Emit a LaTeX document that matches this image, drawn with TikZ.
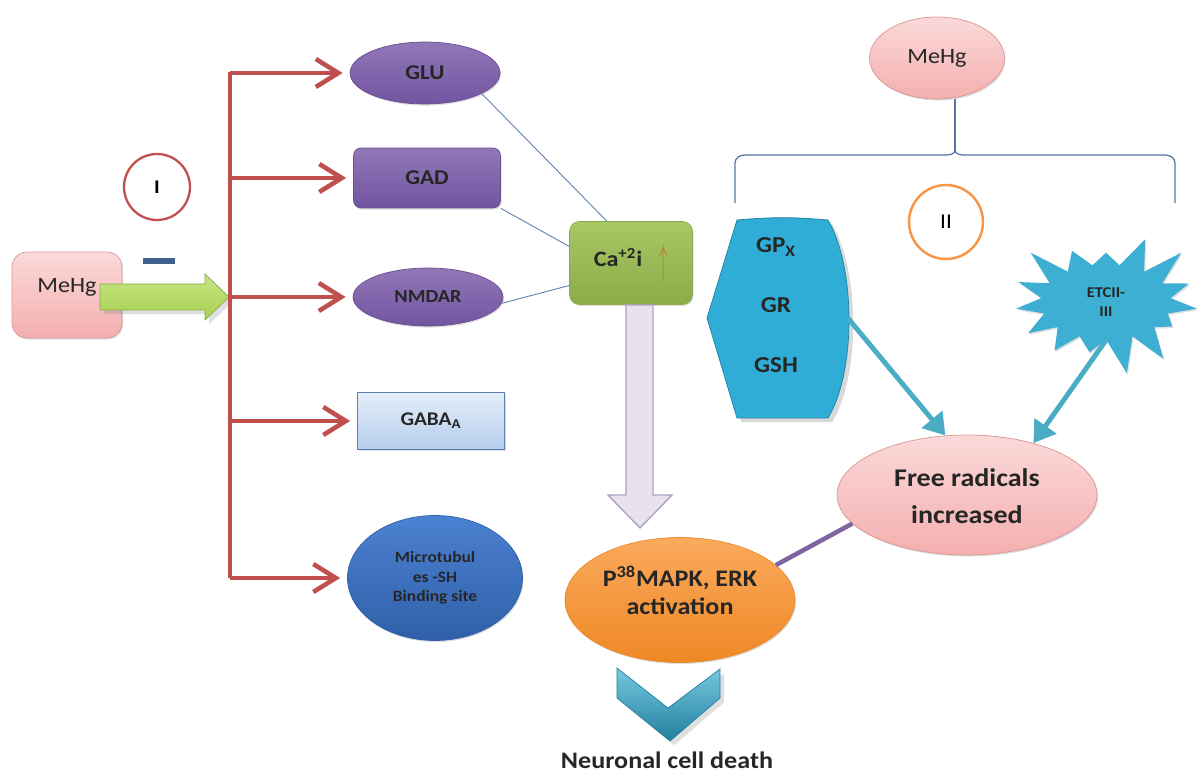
\documentclass[tikz,border=0pt]{standalone}
\usepackage{fontspec}
\setmainfont{Carlito}[FakeStretch=1.1]
\usetikzlibrary{shapes.geometric,shapes.symbols,shadows,arrows.meta}
\definecolor{redbus}{HTML}{C0504D}
\definecolor{pinktop}{HTML}{FBD9D9}
\definecolor{pinkbot}{HTML}{F4AFAF}
\definecolor{pinkline}{HTML}{D99594}
\definecolor{purptop}{HTML}{9277B8}
\definecolor{purpbot}{HTML}{7255A0}
\definecolor{purpline}{HTML}{6A4F91}
\definecolor{gabatop}{HTML}{E4EDF9}
\definecolor{gababot}{HTML}{B6CEEE}
\definecolor{gabaline}{HTML}{5B7DB1}
\definecolor{microtop}{HTML}{4C82D2}
\definecolor{microbot}{HTML}{2F5FA8}
\definecolor{catop}{HTML}{A8C866}
\definecolor{cabot}{HTML}{8AAB47}
\definecolor{ortop}{HTML}{FBAA5C}
\definecolor{orbot}{HTML}{EE8826}
\definecolor{teal}{HTML}{2FADD6}
\definecolor{tealline}{HTML}{21809E}
\definecolor{tealarrow}{HTML}{4BACC6}
\definecolor{startop}{HTML}{3DAFD3}
\definecolor{lavfill}{HTML}{E8E2EF}
\definecolor{lavline}{HTML}{B1A0C7}
\definecolor{lime}{HTML}{A6D04F}
\definecolor{limetop}{HTML}{C6E584}
\definecolor{limeline}{HTML}{86AD45}
\definecolor{bracecol}{HTML}{5474A4}
\definecolor{thincol}{HTML}{5B80B0}
\definecolor{minusblue}{HTML}{3F5F8F}
\definecolor{twocol}{HTML}{F79646}
\definecolor{upbrown}{HTML}{C0783C}
\definecolor{purplink}{HTML}{8064A2}
\tikzstyle{base}=[inner sep=0pt, align=center, text=black!85,
  drop shadow={opacity=0.25,shadow xshift=0.6pt,shadow yshift=-0.9pt}]
\tikzstyle{pinkbox}=[base, draw=pinkline, top color=pinktop, bottom color=pinkbot,
  rounded corners=0.3cm, font=\fontsize{12.5}{14}\selectfont]
\tikzstyle{pinkoval}=[base, ellipse, draw=pinkline, top color=pinktop,
  bottom color=pinkbot]
\tikzstyle{purpoval}=[base, ellipse, draw=purpline, top color=purptop,
  bottom color=purpbot, minimum width=3cm, font=\bfseries\fontsize{12}{14}\selectfont]
\tikzstyle{purpbox}=[purpoval, rectangle, rounded corners=0.15cm]
\tikzstyle{gababox}=[base, draw=gabaline, top color=gabatop, bottom color=gababot,
  minimum width=2.94cm, minimum height=1.14cm, font=\bfseries\fontsize{11}{12}\selectfont]
\tikzstyle{redbranch}=[draw=redbus, line width=2.6pt, shorten >=4pt,
  -{Straight Barb[length=4.5mm,width=5.6mm]}]
\tikzstyle{thinline}=[draw=thincol, line width=0.5pt]
\tikzstyle{tealline}=[draw=tealarrow, line width=2.8pt,
  -{Triangle[length=4.2mm,width=5.2mm]}]

\begin{document}
\begin{tikzpicture}[x=0.02cm,y=-0.02cm]
  \useasboundingbox (0,0) rectangle (1198,773);

  % part I
  \node (mehg) [pinkbox, minimum width=2.2cm, minimum height=1.72cm] at (67,295) {MeHg\\[-0.1cm]};
  \node (one) [circle, draw=redbus, line width=1.3pt, fill=white, minimum size=1.32cm,
    font=\bfseries\fontsize{11}{11}\selectfont] at (157,187) {I};
  \node (minus) [fill=minusblue, minimum width=0.64cm, minimum height=0.13cm, inner sep=0pt] at (159,261) {};
  \shade[top color=limetop, bottom color=lime, draw=limeline, drop shadow={opacity=0.25}]
    (100,284) -- (205,284) -- (205,274) -- (229,297) -- (205,320) -- (205,310) -- (100,310) -- cycle;
  \coordinate (bustop) at (230,72);
  \coordinate (busbot) at (230,578);
  \draw[draw=redbus, line width=2.6pt] (bustop) -- (busbot);

  \node (glu) [purpoval, minimum height=1.24cm] at (425,73) {GLU};
  \node (gad) [purpbox, minimum width=2.94cm, minimum height=1.2cm] at (427,178) {GAD};
  \node (nmdar) [purpoval, font=\bfseries\fontsize{10.5}{13}\selectfont, minimum height=1.16cm] at (428,297) {NMDAR};
  \node (gaba) [gababox] at (431,421) {GABA\textsubscript{A}};
  \node (micro) [base, ellipse, top color=microtop, bottom color=microbot, draw=microbot,
    minimum width=3.5cm, minimum height=2.5cm, font=\bfseries\fontsize{9}{11}\selectfont] at (435,578)
    {Microtubul\\es -SH\\Binding site};
  \foreach \n in {glu,gad,nmdar,gaba,micro}
    \draw[redbranch] (bustop |- \n.west) -- (\n.west);

  \node (ca) [base, rectangle, rounded corners=0.2cm, draw=cabot, top color=catop, bottom color=cabot,
    minimum width=2.46cm, minimum height=1.66cm, font=\bfseries\fontsize{12.5}{14}\selectfont] at (631,263)
    {Ca\textsuperscript{+2}i\hspace{0.35cm}{\color{upbrown}\raisebox{-0.14cm}{\scalebox{0.8}[2]{$\uparrow$}}}\\[-0.17cm]};
  \draw[thinline] (glu.-20) -- (ca.120);
  \draw[thinline] (gad.south east) -- (ca.165);
  \draw[thinline] (nmdar.-5) -- (ca.200);

  % part II
  \node (mehgr) [pinkoval, minimum width=2.7cm, minimum height=1.64cm,
    font=\fontsize{12.5}{14}\selectfont] at (937,58) {MeHg};
  \coordinate (tip) at (955,150);
  \draw[bracecol, line width=0.7pt] (735,203) -- (735,163) to[out=90,in=180] (745,155)
    -- (945,155) to[out=0,in=-90] (tip) to[out=-90,in=180] (965,155) -- (1165,155)
    to[out=0,in=90] (1175,163) -- (1175,203);
  \draw[bracecol, line width=0.7pt] (tip) -- (mehgr.south -| tip);
  \node (two) [circle, draw=twocol, line width=1.4pt, fill=white, minimum size=1.48cm,
    font=\fontsize{12}{12}\selectfont] at (946,222) {II};

  \filldraw[fill=teal, draw=tealline, drop shadow={opacity=0.3}]
    (737,220) to[out=5,in=175] (828,220) .. controls (856,268) and (856,372) .. (828,418)
    -- (737,418) -- (707,318) -- cycle;
  \node (enz) [minimum width=2.86cm, minimum height=4cm, inner sep=0pt, align=center,
    text=black!85, font=\bfseries\fontsize{13}{34}\selectfont] at (776,318)
    {GP\textsubscript{X}\\GR\\GSH\\[-0.68cm]};
  \node (etc) [base, starburst, starburst points=15, starburst point height=0.75cm,
    random starburst=3, fill=startop, minimum width=4.1cm, minimum height=3.0cm,
    font=\bfseries\fontsize{8.5}{11}\selectfont] at (1106,302) {ETCII-\\III};

  \node (fr) [pinkoval, minimum width=5.2cm, minimum height=2.4cm,
    font=\bfseries\fontsize{14.5}{21}\selectfont] at (967,495)
    {\mbox{}\\[-0.34cm]Free radicals\\increased};
  \draw[tealline] (enz.east) -- (fr.110);
  \draw[tealline] (etc.south) -- (fr.38);

  % outcome
  \node (p38) [base, ellipse, draw=orbot, top color=ortop, bottom color=orbot,
    minimum width=4.6cm, minimum height=2.5cm, font=\bfseries\fontsize{13.5}{16}\selectfont]
    at (680,600) {P\textsuperscript{38}MAPK, ERK\\activation\\[-0.16cm]};
  \draw[purplink, line width=2.6pt] (p38.20) -- (fr.194);
  \filldraw[fill=lavfill, draw=lavline, line width=0.8pt]
    (626,305) -- (653,305) -- (653,495) -- (672,495) -- (640,528) -- (608,495)
    -- (626,495) -- cycle;
  \shade[top color=startop!70, bottom color=tealline, draw=tealline, drop shadow={opacity=0.25}]
    (617,668) -- (668,708) -- (720,669) -- (720,698) -- (670,741) -- (617,698) -- cycle;
  \node (death) [font=\bfseries\fontsize{13.5}{16}\selectfont, text=black!85] at (667,760)
    {Neuronal cell death};
\end{tikzpicture}
\end{document}
